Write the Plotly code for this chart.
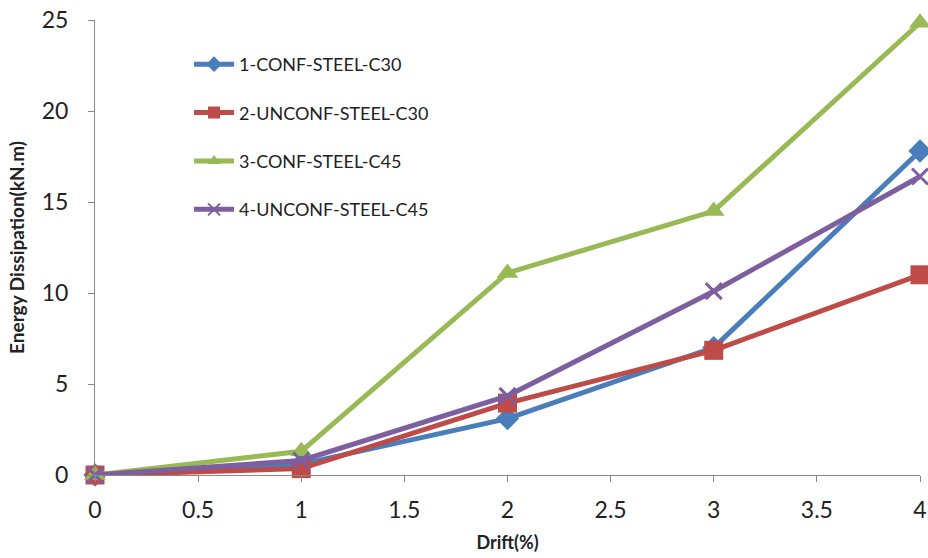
import plotly.graph_objects as go

drift = [0, 1, 2, 3, 4]
s1_conf_c30 = [0, 0.6, 3.1, 7.0, 17.8]
s2_unconf_c30 = [0, 0.35, 3.95, 6.85, 11.0]
s3_conf_c45 = [0, 1.3, 11.1, 14.5, 24.85]
s4_unconf_c45 = [0, 0.8, 4.35, 10.1, 16.4]
names = ["1-CONF-STEEL-C30", "2-UNCONF-STEEL-C30", "3-CONF-STEEL-C45", "4-UNCONF-STEEL-C45"]
x_ticks = [0, 0.5, 1, 1.5, 2, 2.5, 3, 3.5, 4]
y_ticks = [0, 5, 10, 15, 20, 25]

colors = ["#4A7EBB", "#BE4B48", "#98B954", "#7D5FA0"]
symbols = ["diamond", "square", "triangle-up", "x-thin"]
sizes = [18, 19, 19, 16]
series = [s1_conf_c30, s2_unconf_c30, s3_conf_c45, s4_unconf_c45]

fig = go.Figure()
for i, (name, ys, c, sym, sz) in enumerate(zip(names, series, colors, symbols, sizes)):
    marker = dict(symbol=sym, size=sz, color=c)
    if sym == "x-thin":
        marker["line"] = dict(color=c, width=3)
    fig.add_trace(go.Scatter(
        x=drift, y=ys, name=name, mode="lines+markers", legendgroup=f"g{i}",
        line=dict(color=c, width=5), marker=marker, cliponaxis=False,
    ))

fig.update_layout(
    width=928, height=558,
    margin=dict(l=95, r=8, t=20, b=83),
    paper_bgcolor="white", plot_bgcolor="white",
    font=dict(family="Lato, Open Sans, sans-serif", color="#222"),
    showlegend=True,
    legend=dict(x=0.114, y=0.943, xanchor="left", yanchor="top",
                font=dict(size=18, color="#222"), tracegroupgap=22,
                itemwidth=40, itemsizing="constant", bgcolor="rgba(0,0,0,0)"),
    xaxis=dict(range=[0, 4], tickvals=x_ticks, ticktext=[f"{v:g}" for v in x_ticks],
               showgrid=False, zeroline=False, showline=True, linecolor="#888", linewidth=1,
               ticks="outside", ticklen=6, tickcolor="#888", automargin=False,
               tickfont=dict(size=23, color="#222"), ticklabelstandoff=8,
               title=dict(text="<b>Drift(%)</b>", font=dict(size=18), standoff=14)),
    yaxis=dict(range=[0, 25], tickvals=y_ticks,
               showgrid=False, zeroline=False, showline=True, linecolor="#888", linewidth=1,
               ticks="outside", ticklen=6, tickcolor="#888", automargin=False,
               tickfont=dict(size=23, color="#222"), ticklabelstandoff=15,
               title=dict(text="<b>Energy Dissipation(kN.m)</b>", font=dict(size=19), standoff=12)),
)

fig.write_html("out.html", config={"displayModeBar": False},
               post_script="document.body.style.margin='0';document.body.style.overflow='hidden';")
